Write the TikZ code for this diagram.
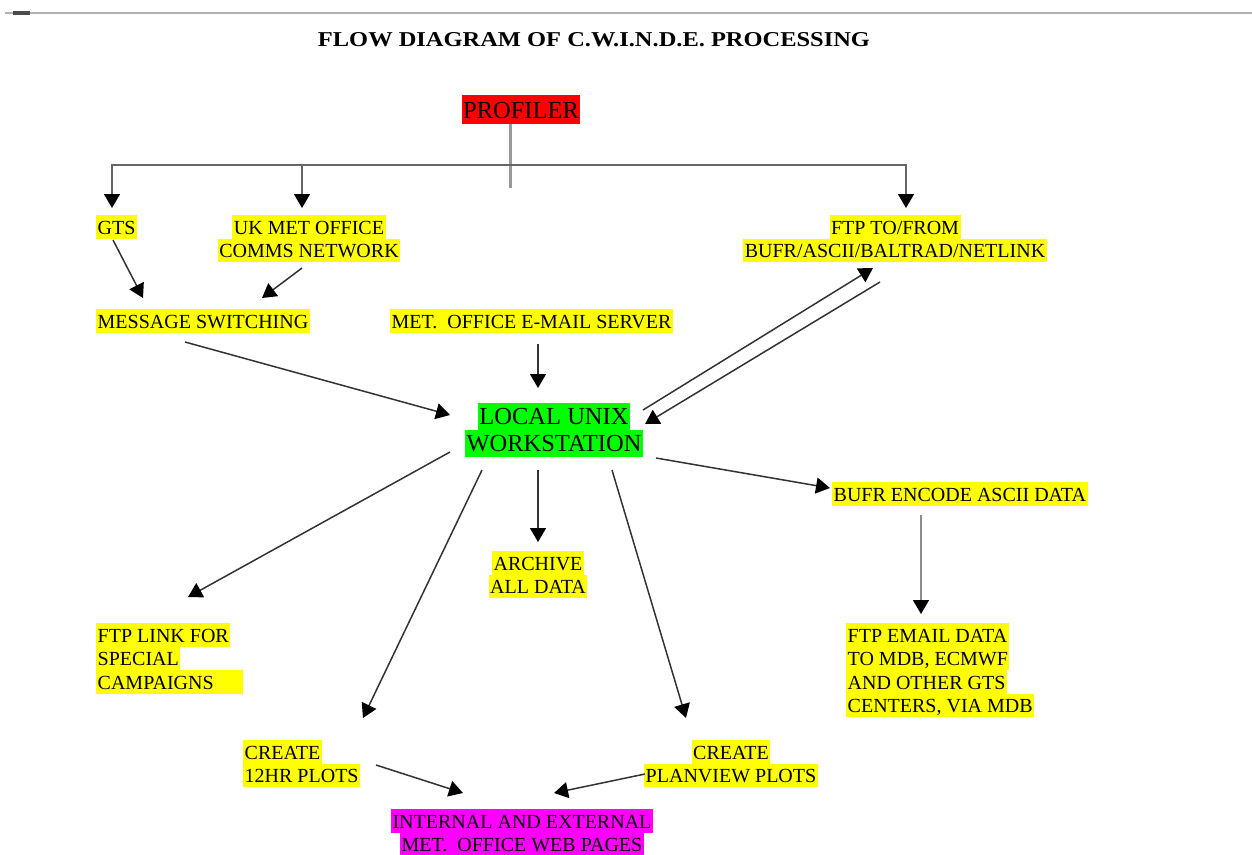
\documentclass[tikz,border=0pt]{standalone}
\usepackage{fontspec}
\setmainfont{Liberation Serif}
\usetikzlibrary{arrows.meta,calc}
\definecolor{hlyellow}{RGB}{255,255,0}
\definecolor{hlred}{RGB}{255,0,0}
\definecolor{hlgreen}{RGB}{0,255,0}
\definecolor{hlmagenta}{RGB}{255,0,255}
\newcommand\hlx[2]{{\setlength\fboxsep{0pt}\colorbox{#1}{\rule[-0.2\baselineskip]{0pt}{\baselineskip}\hspace{1.5pt}#2\hspace{1.5pt}}}}
\tikzset{
  lbl/.style={inner sep=0pt, font=\fontsize{20}{23.5}\selectfont,
    execute at begin node={\lineskip=0pt\lineskiplimit=0pt}},
  biglbl/.style={lbl, font=\fontsize{24.5}{27}\selectfont},
  arr/.style={draw=black!80, line width=1.5pt, -{Triangle[length=14pt,width=16pt,color=black]}},
  treearr/.style={arr, draw=black!60},
  stemline/.style={draw=black!40, line width=3pt},
}
\begin{document}
\begin{tikzpicture}[x=1pt,y=-1pt]
\useasboundingbox (0,0) rectangle (1252,854);
% top rule
\draw[black!30, line width=2pt] (5,13) -- (1252,13);
\draw[black!70, line width=3.5pt] (13,13) -- (30,13);
% title
\node[inner sep=0pt] (title) at (594,40) {\resizebox{552pt}{14pt}{\bfseries FLOW DIAGRAM OF C.W.I.N.D.E. PROCESSING}};
% nodes
\node[biglbl, font=\fontsize{24.5}{29}\selectfont] (prof) at (521,109.5) {\hlx{hlred}{PROFILER}};
\node[lbl, anchor=north west] (gts) at (96,215) {\hlx{hlyellow}{GTS}};
\node[lbl, anchor=north, align=center] (ukmet) at (309,215) {\hlx{hlyellow}{UK MET OFFICE}\\\hlx{hlyellow}{COMMS NETWORK}};
\node[lbl, anchor=north, align=center] (ftpto) at (895,215) {\hlx{hlyellow}{FTP TO/FROM}\\\hlx{hlyellow}{BUFR/ASCII/BALTRAD/NETLINK}};
\node[lbl, anchor=north west] (msg) at (96,309) {\hlx{hlyellow}{MESSAGE SWITCHING}};
\node[lbl, anchor=north west] (email) at (390,309) {\hlx{hlyellow}{MET.\ \ OFFICE E-MAIL SERVER}};
\node[biglbl, anchor=north, align=center] (unix) at (554,403) {\hlx{hlgreen}{LOCAL UNIX}\\\hlx{hlgreen}{WORKSTATION}};
\node[lbl, anchor=north west] (bufr) at (832,482) {\hlx{hlyellow}{BUFR ENCODE ASCII DATA}};
\node[lbl, anchor=north, align=center] (archive) at (538,551) {\hlx{hlyellow}{ARCHIVE}\\\hlx{hlyellow}{ALL DATA}};
\node[lbl, anchor=north west, align=left] (ftplink) at (96,623) {\hlx{hlyellow}{FTP LINK FOR}\\\hlx{hlyellow}{SPECIAL}\\\hlx{hlyellow}{CAMPAIGNS\hspace{28pt}}};
\node[lbl, anchor=north west, align=left] (ftpemail) at (846,623) {\hlx{hlyellow}{FTP EMAIL DATA}\\\hlx{hlyellow}{TO MDB, ECMWF}\\\hlx{hlyellow}{AND OTHER GTS}\\\hlx{hlyellow}{CENTERS, VIA MDB}};
\node[lbl, anchor=north west, align=left] (c12) at (243,740) {\hlx{hlyellow}{CREATE}\\\hlx{hlyellow}{12HR PLOTS}};
\node[lbl, anchor=north, align=center] (cplan) at (731,740) {\hlx{hlyellow}{CREATE}\\\hlx{hlyellow}{PLANVIEW PLOTS}};
\node[lbl, anchor=north, align=center] (web) at (522,809) {\hlx{hlmagenta}{INTERNAL AND EXTERNAL}\\\hlx{hlmagenta}{MET.\ \ OFFICE WEB PAGES}};
% tree from profiler
\coordinate (bus) at (510,165);
\draw[stemline] (prof.south -| bus) -- ($(bus)+(0,23)$);
\draw[treearr] (bus) -| ($(gts.north west)+(16,-7)$);
\draw[treearr] (bus) -| ($(ukmet.north)+(-7,-7)$);
\draw[treearr] (bus) -| ($(ftpto.north)+(11,-7)$);
% connectors
\draw[arr] ($(gts.north west)+(17,25)$) -- ($(msg.north west)+(47,-11)$);
\draw[arr] ($(ukmet.north)+(-7,53)$) -- ($(msg.north west)+(166,-11)$);
\draw[arr] ($(msg.north west)+(89,33)$) -- ($(unix.north)+(-104,12)$);
\draw[arr] ($(email.north west)+(148,35)$) -- ($(unix.north)+(-16,-15)$);
\draw[arr] ($(unix.north)+(89,7)$) -- ($(ftpto.north)+(-22,53)$);
\draw[arr] ($(ftpto.north)+(-15,67)$) -- ($(unix.north)+(91,21)$);
\draw[arr] ($(unix.north)+(-104,49)$) -- ($(ftplink.north west)+(92,-26)$);
\draw[arr] ($(unix.north)+(-72,67)$) -- ($(c12.north west)+(120,-22)$);
\draw[arr] ($(unix.north)+(-16,67)$) -- ($(archive.north)+(0,-9)$);
\draw[arr] ($(unix.north)+(58,67)$) -- ($(cplan.north)+(-45,-22)$);
\draw[arr] ($(unix.north)+(102,55)$) -- ($(bufr.north west)+(-2,6)$);
\draw[arr, draw=black!45] ($(bufr.north west)+(89,33)$) -- ($(ftpemail.north west)+(75,-9)$);
\draw[arr] ($(c12.north west)+(133,25)$) -- ($(web.north)+(-59,-16)$);
\draw[arr] ($(cplan.north)+(-86,34)$) -- ($(web.north)+(32,-16)$);
\end{tikzpicture}
\end{document}
